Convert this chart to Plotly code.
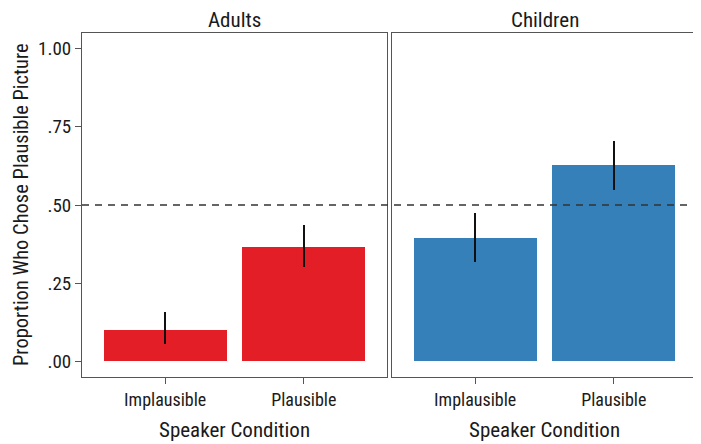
import plotly.graph_objects as go

conditions = ["Implausible", "Plausible"]
adults_mean = [0.101, 0.365]
adults_lo = [0.056, 0.301]
adults_hi = [0.157, 0.436]
children_mean = [0.395, 0.628]
children_lo = [0.319, 0.549]
children_hi = [0.476, 0.705]
panel_titles = ["Adults", "Children"]
x_title = "Speaker Condition"
y_title = "Proportion Who Chose Plausible Picture"
y_ticks = [0, 0.25, 0.5, 0.75, 1.0]
y_ticktext = [".00", ".25", ".50", ".75", "1.00"]
chance_level = 0.5

FONT = "Liberation Sans Narrow, Roboto Condensed, Arial Narrow, Liberation Sans, sans-serif"
RED = "#E31E26"
BLUE = "#3680BA"
FRAME = "#555555"
TXT = "#1a1a1a"

# the page places the figure 8px in from the top-left corner (body margin)
OFF = 8
W, H = 701 - OFF, 444 - OFF
# screen coords of plot region: left 82, right 697, top 33, bottom 377
L = 82 - OFF
T = 33 - OFF
R = 701 - 697
B = 444 - 377
pw = W - L - R
ph = H - T - B
d1 = (387 - 82) / pw
d2 = (392 - 82) / pw

fig = go.Figure()

def add_panel(means, lo, hi, color, xa, ya):
    fig.add_trace(go.Bar(
        x=conditions, y=means, width=0.885,
        marker=dict(color=color, line=dict(width=0)),
        error_y=dict(type="data", symmetric=False,
                     array=[h - m for h, m in zip(hi, means)],
                     arrayminus=[m - l for m, l in zip(means, lo)],
                     color="#111111", thickness=1.6, width=0),
        xaxis=xa, yaxis=ya, showlegend=False, hoverinfo="skip"))

add_panel(adults_mean, adults_lo, adults_hi, RED, "x", "y")
add_panel(children_mean, children_lo, children_hi, BLUE, "x2", "y2")

xcommon = dict(range=[-0.6, 1.6], showline=True, mirror=True, linecolor=FRAME,
               linewidth=1, ticks="outside", ticklen=6, tickcolor=FRAME,
               showgrid=False, zeroline=False, automargin=False,
               tickfont=dict(family=FONT, size=18, color=TXT))
ycommon = dict(range=[-0.05, 1.05], showline=True, mirror=True, linecolor=FRAME,
               linewidth=1, showgrid=False, zeroline=False, automargin=False,
               tickvals=y_ticks, ticktext=y_ticktext)

def py(screen_y):
    return (H - B - (screen_y - OFF)) / ph

def px(screen_x):
    return (screen_x - OFF - L) / pw

annotations = [
    dict(text=panel_titles[0], xref="x domain", yref="paper", x=0.5, y=py(20),
         yanchor="middle", showarrow=False,
         font=dict(family=FONT, size=21, color=TXT)),
    dict(text=panel_titles[1], xref="x2 domain", yref="paper", x=0.5, y=py(20),
         yanchor="middle", showarrow=False,
         font=dict(family=FONT, size=21, color=TXT)),
    dict(text=x_title, xref="x domain", yref="paper", x=0.5, y=py(430),
         yanchor="middle", showarrow=False,
         font=dict(family=FONT, size=21, color=TXT)),
    dict(text=x_title, xref="x2 domain", yref="paper", x=0.5, y=py(430),
         yanchor="middle", showarrow=False,
         font=dict(family=FONT, size=21, color=TXT)),
    dict(text=y_title, xref="paper", yref="paper", x=px(21), y=py(205),
         xanchor="center", yanchor="middle", textangle=-90, showarrow=False,
         font=dict(family=FONT, size=20.5, color=TXT)),
]

fig.update_layout(
    width=W, height=H,
    margin=dict(l=L, r=R, t=T, b=B, autoexpand=False),
    paper_bgcolor="white", plot_bgcolor="white",
    bargap=0,
    xaxis=dict(domain=[0, d1], anchor="y", **xcommon),
    xaxis2=dict(domain=[d2, 1], anchor="y2", **xcommon),
    yaxis=dict(domain=[0, 1], anchor="x", ticks="outside", ticklen=6, tickcolor=FRAME,
               tickfont=dict(family=FONT, size=19, color=TXT), **ycommon),
    yaxis2=dict(domain=[0, 1], anchor="x2", ticks="", showticklabels=False,
                **ycommon),
    shapes=[
        dict(type="line", xref="paper", yref="y", x0=0, x1=1,
             y0=chance_level, y1=chance_level,
             line=dict(color="#333", width=1.3, dash="7px,6px"), layer="above"),
    ],
    annotations=annotations,
)

fig.write_html("out.html")
